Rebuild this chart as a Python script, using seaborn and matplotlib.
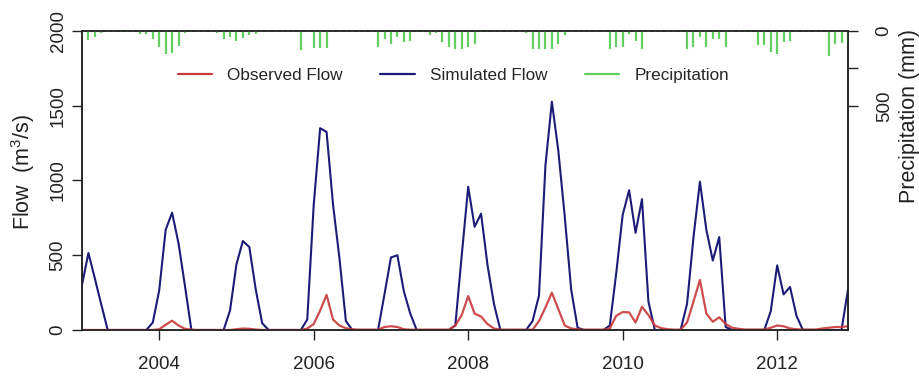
import numpy as np
import pandas as pd
import matplotlib
matplotlib.use("Agg")
import matplotlib.pyplot as plt
import seaborn as sns

# ---------------- data (monthly, Jan 2003 - Dec 2012) ----------------
start_year = 2003
n_years = 10

sim_flow = (
    [300, 515, 345, 170, 0, 0, 0, 0, 0, 0, 0, 50] +          # 2003
    [265, 670, 785, 580, 295, 0, 0, 0, 0, 0, 0, 130] +       # 2004
    [440, 595, 555, 270, 45, 0, 0, 0, 0, 0, 0, 70] +         # 2005
    [835, 1350, 1325, 840, 480, 60, 0, 0, 0, 0, 0, 240] +    # 2006
    [485, 500, 260, 110, 0, 0, 0, 0, 0, 0, 30, 500] +        # 2007
    [958, 690, 778, 435, 175, 0, 0, 0, 0, 0, 60, 230] +      # 2008
    [1100, 1527, 1200, 760, 270, 15, 0, 0, 0, 0, 30, 380] +  # 2009
    [770, 935, 650, 875, 190, 0, 0, 0, 0, 0, 175, 620] +     # 2010
    [992, 670, 465, 622, 20, 0, 0, 0, 0, 0, 0, 125] +        # 2011
    [432, 238, 288, 95, 0, 0, 0, 0, 0, 0, 0, 270]            # 2012
)

obs_flow = (
    [0, 0, 0, 0, 0, 0, 0, 0, 0, 0, 0, 0] +
    [5, 35, 62, 30, 8, 2, 0, 0, 0, 0, 0, 0] +
    [5, 10, 8, 3, 0, 0, 0, 0, 0, 0, 0, 10] +
    [40, 130, 235, 70, 30, 12, 5, 2, 2, 2, 2, 20] +
    [25, 20, 5, 2, 2, 2, 2, 2, 2, 2, 30, 100] +
    [227, 110, 90, 40, 10, 3, 2, 2, 2, 2, 2, 60] +
    [150, 250, 140, 30, 10, 5, 2, 2, 2, 2, 10, 95] +
    [120, 118, 50, 155, 100, 30, 12, 5, 2, 2, 50, 190] +
    [335, 110, 55, 85, 40, 15, 8, 3, 3, 3, 3, 15] +
    [30, 25, 10, 5, 3, 3, 3, 10, 15, 20, 20, 25]
)

precip = (
    [40, 60, 40, 15, 10, 5, 5, 8, 10, 20, 20, 55] +
    [110, 155, 145, 100, 15, 10, 5, 5, 10, 15, 55, 40] +
    [70, 45, 30, 20, 10, 5, 5, 5, 5, 10, 125, 10] +
    [115, 115, 115, 10, 5, 5, 5, 5, 5, 10, 110, 55] +
    [85, 40, 75, 65, 10, 5, 30, 15, 75, 110, 120, 120] +
    [110, 85, 10, 8, 5, 5, 5, 5, 10, 15, 120, 120] +
    [120, 120, 85, 30, 10, 8, 5, 5, 5, 10, 120, 110] +
    [110, 20, 65, 120, 10, 5, 5, 5, 5, 10, 120, 110] +
    [40, 110, 55, 55, 110, 10, 5, 5, 10, 95, 95, 140] +
    [155, 75, 65, 10, 5, 5, 5, 10, 165, 85, 80, 75]
)

x_ticks = [2004, 2006, 2008, 2010, 2012]
flow_ticks = [0, 500, 1000, 1500, 2000]
precip_ticks = [0, 250, 500]
precip_ticklabels = ["0", "", "500"]

series_names = ["Observed Flow", "Simulated Flow", "Precipitation"]
colors = {"Observed Flow": "#c8383a", "Simulated Flow": "#1c1c78", "Precipitation": "#62cf62"}

# ---------------- figure ----------------
sns.set_style("ticks")
plt.rcParams["font.family"] = ["Liberation Sans", "DejaVu Sans"]
plt.rcParams["mathtext.fontset"] = "custom"
plt.rcParams["mathtext.rm"] = "Liberation Sans"

time = start_year + np.arange(12 * n_years) / 12.0
df = pd.DataFrame({"time": time, "sim": sim_flow, "obs": obs_flow, "precip": precip})

fig = plt.figure(figsize=(9.2, 3.79), dpi=100)
ax = fig.add_axes([0.0891, 0.1293, 0.8326, 0.7889])

sns.lineplot(data=df, x="time", y="sim", ax=ax, color=colors["Simulated Flow"],
             linewidth=1.5, label="Simulated Flow", zorder=3)
sns.lineplot(data=df, x="time", y="obs", ax=ax, color=colors["Observed Flow"],
             linewidth=1.6, alpha=0.9, label="Observed Flow", zorder=4)

ax.set_xlim(time[0], time[-1])
ax.set_ylim(0, 2000)
ax.set_xticks(x_ticks)
ax.set_xticklabels([str(t) for t in x_ticks], fontsize=13.5)
ax.set_yticks(flow_ticks)
ax.set_yticklabels([str(t) for t in flow_ticks], fontsize=13.5, rotation=90, va="center")
ax.tick_params(axis="x", direction="out", length=7, width=1, pad=12, colors="#222222")
ax.tick_params(axis="y", direction="out", length=7, width=1, pad=4, colors="#222222")
for s in ax.spines.values():
    s.set_color("#222222")
    s.set_linewidth(1.1)
ax.set_xlabel("")
ax.set_ylabel("Flow  (m$^3$/s)", fontsize=15.5, color="#222222")
ax.yaxis.label.set_va("center")
ax.yaxis.set_label_coords(-0.077, 0.528)

ax2 = ax.twinx()
ax2.vlines(df["time"], 0, df["precip"], color=colors["Precipitation"], linewidth=1.6,
           label="Precipitation")
ax2.set_ylim(2000, 0)
ax2.set_yticks(precip_ticks)
ax2.set_yticklabels(precip_ticklabels, fontsize=13.5, rotation=90, va="center")
ax2.tick_params(axis="y", direction="out", length=7, width=1, pad=13, colors="#222222")
for s in ax2.spines.values():
    s.set_color("#222222")
    s.set_linewidth(1.1)
ax2.set_ylabel("Precipitation (mm)", fontsize=15.5, color="#222222")
ax2.yaxis.label.set_va("center")
ax2.yaxis.set_label_coords(1.08, 0.716)

ax.get_legend().remove()
h1, l1 = ax.get_legend_handles_labels()
h2, l2 = ax2.get_legend_handles_labels()
handles = dict(zip(l1 + l2, h1 + h2))
from matplotlib.lines import Line2D
leg_handles = [Line2D([0], [0], color=colors[n], lw=1.6) for n in series_names]
fig.legend(leg_handles, series_names, loc="center", bbox_to_anchor=(0.493, 0.802),
           ncol=3, frameon=False, fontsize=12.3, handlelength=2.0, handletextpad=0.9,
           columnspacing=2.2)

fig.savefig("out.png", dpi=100)
